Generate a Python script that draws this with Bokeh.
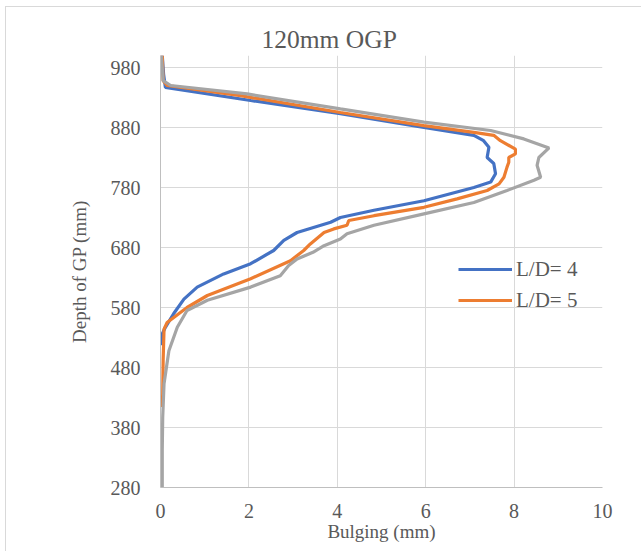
from bokeh.plotting import figure
from bokeh.models import FixedTicker, Range1d, Legend
from bokeh.embed import file_html
from bokeh.resources import INLINE

# Depth of GP (mm) and bulging (mm) for each series
depth_ld4 = [1000, 969, 947, 925, 903, 880, 867, 858, 847, 830, 820, 803, 789, 780,
             758, 742, 730, 722, 705, 692, 675, 653, 636, 614, 594, 570, 547, 536, 517]
bulge_ld4 = [0.04, 0.07, 0.11, 2.04, 4.07, 5.96, 7.09, 7.31, 7.43, 7.39, 7.54, 7.58, 7.47, 7.09,
             5.96, 4.83, 4.07, 3.85, 3.09, 2.79, 2.56, 2.04, 1.43, 0.83, 0.53, 0.30, 0.11, 0.04, 0.04]

depth_ld5 = [1000, 958, 950, 933, 905, 883, 872, 867, 858, 844, 836, 830, 822, 814, 797, 786,
             775, 761, 747, 733, 725, 717, 711, 705, 686, 675, 658, 628, 600, 580, 555, 544,
             492, 436, 414]
bulge_ld5 = [0.04, 0.06, 0.15, 1.81, 4.07, 5.96, 7.09, 7.54, 7.69, 8.03, 8.03, 7.88, 7.88, 7.84, 7.77, 7.66,
             7.39, 6.71, 5.96, 4.83, 4.26, 4.22, 3.92, 3.70, 3.39, 3.24, 2.94, 2.04, 1.06, 0.60, 0.15, 0.08,
             0.06, 0.05, 0.04]

depth_ld6 = [1000, 958, 950, 936, 911, 889, 875, 861, 846, 830, 817, 797, 792, 775, 755, 736,
             717, 703, 694, 683, 672, 661, 650, 633, 614, 592, 575, 547, 508, 453, 397, 342, 281]
bulge_ld6 = [0.02, 0.06, 0.23, 1.96, 4.07, 5.96, 7.47, 8.22, 8.79, 8.56, 8.52, 8.60, 8.45, 7.84, 7.09, 5.96,
             4.83, 4.22, 4.07, 3.70, 3.45, 3.09, 2.90, 2.71, 2.04, 1.06, 0.60, 0.38, 0.19, 0.08, 0.05, 0.04, 0.04]

x_ticks = [0, 2, 4, 6, 8, 10]
y_ticks = [280, 380, 480, 580, 680, 780, 880, 980]

TXT = "#595959"
FONT = "Liberation Serif"

p = figure(width=636, height=545, output_backend="svg", toolbar_location=None,
           x_range=Range1d(0, 10), y_range=Range1d(280, 1000),
           min_border_left=154, min_border_right=40, min_border_top=48, min_border_bottom=65,
           styles={"border-left": "1px solid #d9d9d9", "border-top": "1px solid #d9d9d9",
                   "margin-left": "5px", "margin-top": "6px"})

p.title.text = "120mm OGP"
p.title.align = "left"
p.title.offset = 101
p.title.standoff = 4
p.title.text_font = FONT
p.title.text_font_size = "25.5px"
p.title.text_font_style = "normal"
p.title.text_color = TXT

p.outline_line_color = None
p.background_fill_color = "white"
p.border_fill_color = "white"

p.xaxis.ticker = FixedTicker(ticks=x_ticks)
p.yaxis.ticker = FixedTicker(ticks=y_ticks)
for ax in (p.xaxis[0], p.yaxis[0]):
    ax.major_tick_line_color = None
    ax.minor_tick_line_color = None
    ax.axis_line_color = "#bfbfbf"
    ax.axis_line_width = 1
    ax.major_label_text_font = FONT
    ax.major_label_text_font_size = "20px"
    ax.major_label_text_color = TXT
    ax.axis_label_text_font = FONT
    ax.axis_label_text_font_size = "19px"
    ax.axis_label_text_font_style = "normal"
    ax.axis_label_text_color = TXT

p.xaxis.axis_label = "Bulging (mm)"
p.yaxis.axis_label = "Depth of GP (mm)"
p.xaxis.major_label_standoff = 10
p.yaxis.major_label_standoff = 14
p.xaxis.axis_label_standoff = 0
p.yaxis.axis_label_standoff = 18

p.xgrid.grid_line_color = "#d9d9d9"
p.ygrid.grid_line_color = "#d9d9d9"
p.xgrid.grid_line_width = 1
p.ygrid.grid_line_width = 1

r4 = p.line(bulge_ld4, depth_ld4, line_color="#4472c4", line_width=3.2)
r5 = p.line(bulge_ld5, depth_ld5, line_color="#ed7d31", line_width=3.2)
r6 = p.line(bulge_ld6, depth_ld6, line_color="#a5a5a5", line_width=3.2)

legend = Legend(items=[("L/D= 4", [r4]), ("L/D= 5", [r5])], location=(298, 173))
legend.label_text_font = FONT
legend.label_text_font_size = "21px"
legend.label_text_color = TXT
legend.glyph_width = 54
legend.glyph_height = 28
legend.label_height = 28
legend.spacing = 3
legend.padding = 0
legend.margin = 0
legend.label_standoff = 4
legend.border_line_color = None
legend.background_fill_alpha = 0
p.add_layout(legend)

open("out.html", "w").write(file_html(p, INLINE))
